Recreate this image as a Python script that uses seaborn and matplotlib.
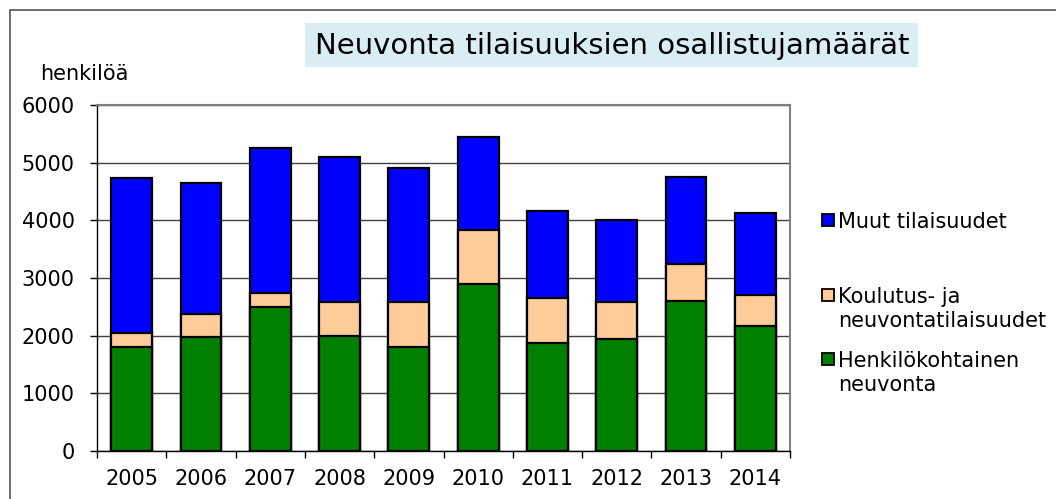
import numpy as np
import pandas as pd
import matplotlib
matplotlib.use("Agg")
import matplotlib.pyplot as plt
import seaborn as sns
from matplotlib.patches import Rectangle

years = ["2005", "2006", "2007", "2008", "2009", "2010", "2011", "2012", "2013", "2014"]
henkilokohtainen = [1800, 1970, 2490, 2000, 1800, 2900, 1870, 1940, 2600, 2160]
koulutus = [240, 410, 250, 590, 790, 940, 790, 650, 650, 550]
muut = [2700, 2260, 2510, 2510, 2310, 1610, 1500, 1410, 1500, 1410]

sns.set_theme(style="white")
plt.rcParams['font.family'] = ['DejaVu Sans']
plt.rcParams['text.color'] = 'black'
plt.rcParams['xtick.color'] = 'black'
plt.rcParams['ytick.color'] = 'black'

df = pd.DataFrame({"vuosi": years, "H": henkilokohtainen, "K": koulutus, "M": muut})
df["K_top"] = df["H"] + df["K"]
df["M_top"] = df["K_top"] + df["M"]

W, H = 1056, 499
fig = plt.figure(figsize=(W / 100, H / 100), dpi=100)
ax = fig.add_axes([97 / W, 1 - 451 / H, (790 - 97) / W, (451 - 105) / H])

# pinotut pylväät: piirretään kumulatiiviset summat päällekkäin
colors = {"M_top": "#0000ff", "K_top": "#ffcc99", "H": "#008000"}
for col, color in colors.items():
    sns.barplot(data=df, x="vuosi", y=col, ax=ax, color=color, width=0.59,
                edgecolor="black", linewidth=1.6, saturation=1, zorder=3)

fs = 15
ax.set_ylim(0, 6000)
ax.set_xlim(-0.5, 9.5)
ax.set_yticks(range(0, 6001, 1000))
ax.yaxis.grid(True, color="#404040", linewidth=1, zorder=0)
ax.set_xlabel("")
ax.set_ylabel("")
ax.tick_params(axis="y", labelsize=fs, length=5, width=1, direction="out", left=True, pad=11)
ax.tick_params(axis="x", labelsize=fs, length=0, pad=13)
ax.set_xticks(np.arange(-0.5, 10, 1), minor=True)
ax.tick_params(axis="x", which="minor", length=5, width=1, direction="out", bottom=True)
for s in ["top", "right"]:
    ax.spines[s].set_color("#808080")
    ax.spines[s].set_linewidth(1.5)
for s in ["left", "bottom"]:
    ax.spines[s].set_color("black")
    ax.spines[s].set_linewidth(1)

fig.text(40 / W, 1 - 80 / H, "henkilöä", fontsize=fs, va="baseline")
fig.add_artist(Rectangle((305 / W, 1 - 67 / H), (918 - 305) / W, 44 / H,
                         transform=fig.transFigure, facecolor="#daedf3", edgecolor="none"))
fig.text(612 / W, 1 - 46 / H, "Neuvonta tilaisuuksien osallistujamäärät", fontsize=21,
         ha="center", va="center")

# ulkoreunus
fig.add_artist(Rectangle((10 / W, -0.1), 1.2, 1 - 10 / H + 0.1, transform=fig.transFigure,
                         fill=False, edgecolor="#555555", linewidth=1.2))

# selite: neliö ja tekstirivit
legend_items = [("#0000ff", ["Muut tilaisuudet"], 228),
                ("#ffcc99", ["Koulutus- ja", "neuvontatilaisuudet"], 303),
                ("#008000", ["Henkilökohtainen", "neuvonta"], 367)]
for color, lines, base in legend_items:
    fig.add_artist(Rectangle((822 / W, 1 - (base - 2) / H), 12 / W, 12 / H,
                             transform=fig.transFigure, facecolor=color,
                             edgecolor="black", linewidth=1.3))
    for i, line in enumerate(lines):
        fig.text(838 / W, 1 - (base + 24 * i) / H, line, fontsize=fs, va="baseline")

fig.savefig("out.png", dpi=100)
